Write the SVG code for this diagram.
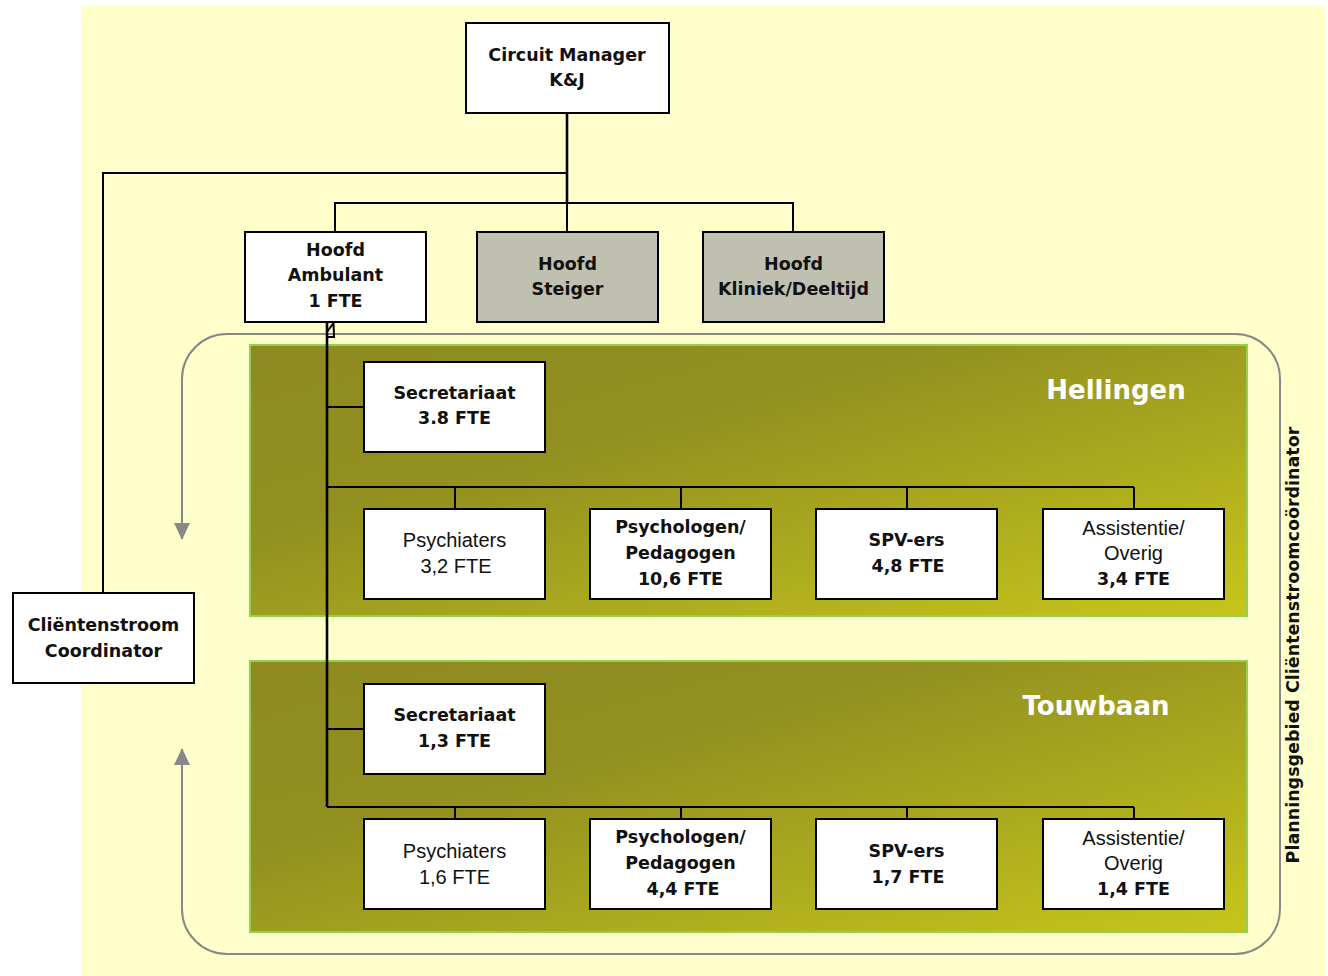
<svg xmlns="http://www.w3.org/2000/svg" width="1328" height="976" viewBox="0 0 1328 976">
<defs>
<style>
.box{fill:#fff;stroke:#000;stroke-width:2}
.grey{fill:#C0C0B0;stroke:#000;stroke-width:2}
.b{font-family:"DejaVu Sans",Verdana,sans-serif;font-weight:bold;font-size:17.5px;text-anchor:middle;fill:#111}
.n{font-family:"Liberation Sans",Arial,sans-serif;font-size:20px;text-anchor:middle;fill:#111}
.title{font-family:"DejaVu Sans",Verdana,sans-serif;font-weight:bold;font-size:26px;text-anchor:middle;fill:#fff}
.ln{fill:none;stroke:#000;stroke-width:2}
.lnt{fill:none;stroke:#000;stroke-width:2.6}
.flow{fill:none;stroke:#888;stroke-width:2}
.panel{stroke:#92D050;stroke-width:2}
</style>
<linearGradient id="g" x1="0" y1="0" x2="1" y2="1">
<stop offset="0" stop-color="#8E8A21"/>
<stop offset="0.35" stop-color="#929020"/>
<stop offset="1" stop-color="#C6C61C"/>
</linearGradient>
<marker id="ga" viewBox="0 0 17 16" refX="16" refY="8" markerWidth="17" markerHeight="16" markerUnits="userSpaceOnUse" orient="auto">
<path d="M0 0 L17 8 L0 16 Z" fill="#888"/>
</marker>
</defs>
<rect x="81" y="6" width="1245" height="970" fill="#FFFFCC"/>

<g id="flow-loop">
<path class="flow" d="M700 334 L227 334 A45 45 0 0 0 182 379 L182 539" marker-end="url(#ga)"/>
<path class="flow" d="M700 334 L1235 334 A45 45 0 0 1 1280 379 L1280 909 A45 45 0 0 1 1235 954 L227 954 A45 45 0 0 1 182 909 L182 749" marker-end="url(#ga)"/>
</g>

<g id="panel-hellingen">
<rect class="panel" x="250" y="345" width="997" height="271" fill="url(#g)"/>
<text class="title" x="1116" y="399">Hellingen</text>
</g>
<g id="panel-touwbaan">
<rect class="panel" x="250" y="661" width="997" height="271" fill="url(#g)"/>
<text class="title" x="1096" y="715">Touwbaan</text>
</g>

<g id="connectors">
<path class="lnt" d="M567 113 L567 203"/>
<path class="ln" d="M567 173 L103 173 L103 593"/>
<path class="ln" d="M335 232 L335 203 L793 203 L793 232 M567 203 L567 232"/>
<path class="lnt" d="M327 322 L327 807"/>
<path class="ln" d="M333.5 323 L327 332 L327 337 L334 337 Z" stroke-width="1.8"/>
<path class="ln" d="M327 407 L364 407 M327 487 L1134 487 M455 487 L455 509 M681 487 L681 509 M907 487 L907 509 M1134 487 L1134 509"/>
<path class="ln" d="M327 729 L364 729 M327 807 L1134 807 M455 807 L455 819 M681 807 L681 819 M907 807 L907 819 M1134 807 L1134 819"/>
</g>

<g id="circuit-manager">
<rect class="box" x="466" y="23" width="203" height="90"/>
<text class="b" x="567" y="61">Circuit Manager</text>
<text class="b" x="567" y="86">K&amp;J</text>
</g>
<g id="hoofd-ambulant">
<rect class="box" x="245" y="232" width="181" height="90"/>
<text class="b" x="335.5" y="256">Hoofd</text>
<text class="b" x="335.5" y="281">Ambulant</text>
<text class="b" x="335.5" y="307">1 FTE</text>
</g>
<g id="hoofd-steiger">
<rect class="grey" x="477" y="232" width="181" height="90"/>
<text class="b" x="567.5" y="270">Hoofd</text>
<text class="b" x="567.5" y="295">Steiger</text>
</g>
<g id="hoofd-kliniek">
<rect class="grey" x="703" y="232" width="181" height="90"/>
<text class="b" x="793.5" y="270">Hoofd</text>
<text class="b" x="793.5" y="295">Kliniek/Deeltijd</text>
</g>
<g id="clientenstroom-coordinator">
<rect class="box" x="13" y="593" width="181" height="90"/>
<text class="b" x="103.5" y="631">Cliëntenstroom</text>
<text class="b" x="103.5" y="657">Coordinator</text>
</g>

<g id="h-secretariaat">
<rect class="box" x="364" y="362" width="181" height="90"/>
<text class="b" x="454.5" y="399">Secretariaat</text>
<text class="b" x="454.5" y="424">3.8 FTE</text>
</g>
<g id="h-psychiaters">
<rect class="box" x="364" y="509" width="181" height="90"/>
<text class="n" x="454.5" y="547">Psychiaters</text>
<text class="n" x="456" y="573">3,2 FTE</text>
</g>
<g id="h-psychologen">
<rect class="box" x="590" y="509" width="181" height="90"/>
<text class="b" x="680.5" y="533">Psychologen/</text>
<text class="b" x="680.5" y="559">Pedagogen</text>
<text class="b" x="680.5" y="585">10,6 FTE</text>
</g>
<g id="h-spv">
<rect class="box" x="816" y="509" width="181" height="90"/>
<text class="b" x="906.5" y="546">SPV-ers</text>
<text class="b" x="908" y="572">4,8 FTE</text>
</g>
<g id="h-assistentie">
<rect class="box" x="1043" y="509" width="181" height="90"/>
<text class="n" x="1133.5" y="535">Assistentie/</text>
<text class="n" x="1133.5" y="560">Overig</text>
<text class="b" x="1133.5" y="585">3,4 FTE</text>
</g>

<g id="t-secretariaat">
<rect class="box" x="364" y="684" width="181" height="90"/>
<text class="b" x="454.5" y="721">Secretariaat</text>
<text class="b" x="454.5" y="747">1,3 FTE</text>
</g>
<g id="t-psychiaters">
<rect class="box" x="364" y="819" width="181" height="90"/>
<text class="n" x="454.5" y="858">Psychiaters</text>
<text class="n" x="454.5" y="884">1,6 FTE</text>
</g>
<g id="t-psychologen">
<rect class="box" x="590" y="819" width="181" height="90"/>
<text class="b" x="680.5" y="843">Psychologen/</text>
<text class="b" x="680.5" y="869">Pedagogen</text>
<text class="b" x="683" y="895">4,4 FTE</text>
</g>
<g id="t-spv">
<rect class="box" x="816" y="819" width="181" height="90"/>
<text class="b" x="906.5" y="857">SPV-ers</text>
<text class="b" x="908" y="883">1,7 FTE</text>
</g>
<g id="t-assistentie">
<rect class="box" x="1043" y="819" width="181" height="90"/>
<text class="n" x="1133.5" y="845">Assistentie/</text>
<text class="n" x="1133.5" y="870">Overig</text>
<text class="b" x="1133.5" y="895">1,4 FTE</text>
</g>

<g id="side-label">
<text class="b" transform="translate(1299 645) rotate(-90)" x="0" y="0">Planningsgebied Cliëntenstroomcoördinator</text>
</g>
</svg>
